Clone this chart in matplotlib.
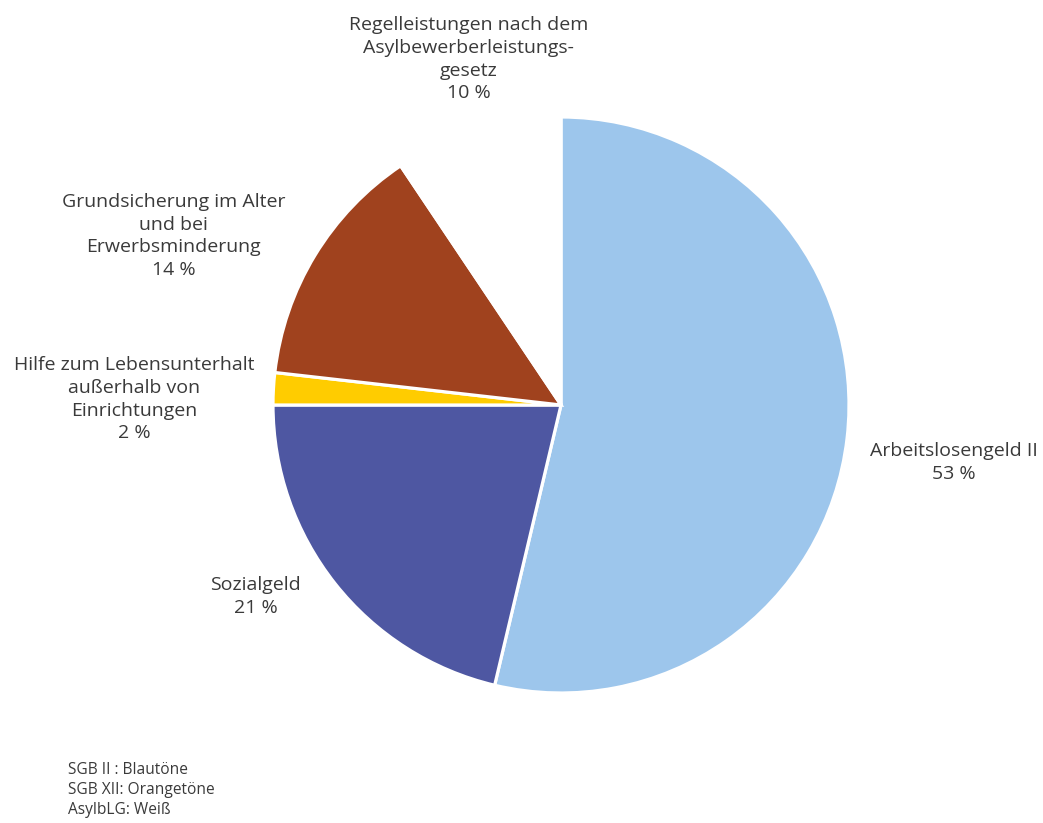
import matplotlib
matplotlib.use("Agg")
import matplotlib.pyplot as plt

plt.rcParams['font.family'] = ['Open Sans', 'DejaVu Sans']

categories = ["Arbeitslosengeld II", "Sozialgeld",
              "Hilfe zum Lebensunterhalt\naußerhalb von\nEinrichtungen",
              "Grundsicherung im Alter\nund bei\nErwerbsminderung",
              "Regelleistungen nach dem\nAsylbewerberleistungs-\ngesetz"]
values = [53.7, 21.3, 1.8, 13.8, 9.4]
pct_labels = ["53 %", "21 %", "2 %", "14 %", "10 %"]
colors = ["#9DC6EC", "#4E57A2", "#FFCC00", "#A0421E", "#FFFFFF"]
label_pos = [(1.365, -0.200), (-1.060, -0.665), (-1.483, 0.020), (-1.344, 0.587), (-0.320, 1.200)]
footnote = ["SGB II : Blautöne", "SGB XII: Orangetöne", "AsylbLG: Weiß"]

W, H = 1043, 823
fig = plt.figure(figsize=(W/100, H/100), dpi=100)
cx, cy, r = 561, 405, 288
ax = fig.add_axes([(cx - r)/W, (H - cy - r)/H, 2*r/W, 2*r/H])
ax.pie(values, colors=colors, startangle=90, counterclock=False, radius=1,
       wedgeprops=dict(edgecolor="white", linewidth=2.3))
ax.set_xlim(-1, 1)
ax.set_ylim(-1, 1)
ax.set_aspect("equal")
ax.axis("off")

txt_color = "#3a3a3a"
for cat, pct, (x, y) in zip(categories, pct_labels, label_pos):
    ax.text(x, y, cat + "\n" + pct, ha="center", va="center", fontsize=14,
            color=txt_color, linespacing=1.33, clip_on=False)

fig.text(68/W, 1 - 762/H, "\n".join(footnote), ha="left", va="top",
         fontsize=11.2, color=txt_color, linespacing=1.33)

fig.savefig("out.png", dpi=100)
